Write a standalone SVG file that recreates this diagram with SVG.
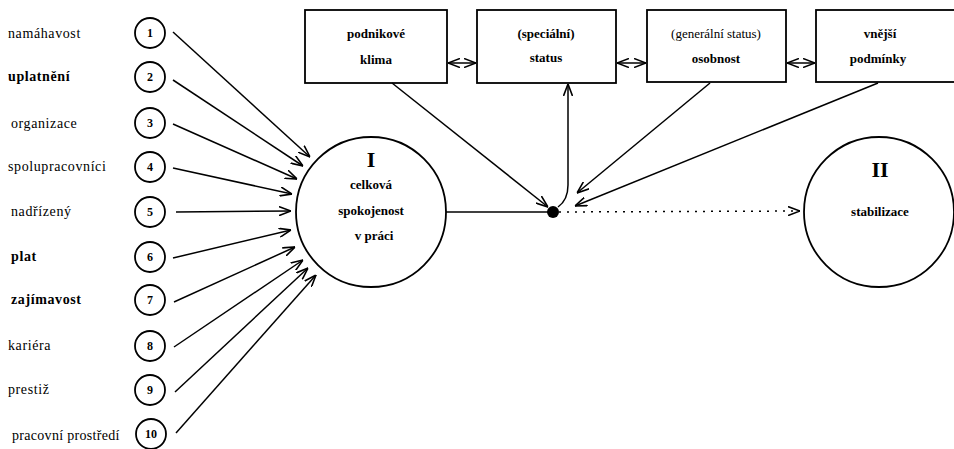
<svg xmlns="http://www.w3.org/2000/svg" width="954" height="449" viewBox="0 0 954 449">
<defs>
<style>
.lbl{font-family:"Liberation Serif","DejaVu Serif",serif;font-size:14px;letter-spacing:0.6px;fill:#000}
.b{font-weight:bold}
.num{font-family:"Liberation Serif","DejaVu Serif",serif;font-size:12px;font-weight:bold;text-anchor:middle;fill:#000}
.box{fill:#fff;stroke:#000;stroke-width:1.8}
.bt{font-family:"Liberation Serif","DejaVu Serif",serif;font-size:13px;font-weight:bold;text-anchor:middle;fill:#000}
.bn{font-family:"Liberation Serif","DejaVu Serif",serif;font-size:13px;text-anchor:middle;fill:#000}
.circ{fill:#fff;stroke:#000;stroke-width:1.8}
.roman{font-family:"Liberation Serif","DejaVu Serif",serif;font-size:22px;font-weight:bold;text-anchor:middle;fill:#000}
.ln{fill:none;stroke:#000;stroke-width:1.5}
</style>
<marker id="ah" viewBox="0 0 12 10" refX="12" refY="5" markerWidth="12" markerHeight="10" markerUnits="userSpaceOnUse" orient="auto-start-reverse">
<path d="M0,0.5 L12,5 L0,9.5" fill="none" stroke="#000" stroke-width="1.6"/>
</marker>
</defs>
<rect width="954" height="449" fill="#fff"/>

<g id="factors">
<g id="f1"><text class="lbl" x="8" y="38">namáhavost</text><circle class="circ" cx="150" cy="33" r="15"/><text class="num" x="150" y="37">1</text></g>
<g id="f2"><text class="lbl b" x="8" y="81">uplatnění</text><circle class="circ" cx="150" cy="77" r="15"/><text class="num" x="150" y="81">2</text></g>
<g id="f3"><text class="lbl" x="11" y="128">organizace</text><circle class="circ" cx="150" cy="123" r="15"/><text class="num" x="150" y="127">3</text></g>
<g id="f4"><text class="lbl" x="8" y="171">spolupracovníci</text><circle class="circ" cx="150" cy="167" r="15"/><text class="num" x="150" y="171">4</text></g>
<g id="f5"><text class="lbl" x="11" y="216">nadřízený</text><circle class="circ" cx="150" cy="212" r="15"/><text class="num" x="150" y="216">5</text></g>
<g id="f6"><text class="lbl b" x="11" y="261">plat</text><circle class="circ" cx="150" cy="257" r="15"/><text class="num" x="150" y="261">6</text></g>
<g id="f7"><text class="lbl b" x="11" y="304">zajímavost</text><circle class="circ" cx="150" cy="300" r="15"/><text class="num" x="150" y="304">7</text></g>
<g id="f8"><text class="lbl" x="8" y="350">kariéra</text><circle class="circ" cx="150" cy="346" r="15"/><text class="num" x="150" y="350">8</text></g>
<g id="f9"><text class="lbl" x="8" y="394">prestiž</text><circle class="circ" cx="150" cy="390" r="15"/><text class="num" x="150" y="394">9</text></g>
<g id="f10"><text class="lbl" x="12" y="440" style="letter-spacing:0.3px">pracovní prostředí</text><circle class="circ" cx="151" cy="434" r="15"/><text class="num" x="151" y="438">10</text></g>
</g>

<g id="box-klima"><rect class="box" x="305" y="10" width="142" height="73"/><text class="bt" x="376" y="38">podnikové</text><text class="bt" x="376" y="64">klima</text></g>
<g id="box-status"><rect class="box" x="477" y="10" width="139" height="73"/><text class="bt" x="546" y="38">(speciální)</text><text class="bt" x="546" y="62">status</text></g>
<g id="box-osobnost"><rect class="box" x="647" y="10" width="139" height="72"/><text class="bn" x="716" y="38">(generální status)</text><text class="bt" x="716" y="63">osobnost</text></g>
<g id="box-podminky"><rect class="box" x="816" y="10" width="140" height="72"/><text class="bt" x="880" y="38">vnější</text><text class="bt" x="878" y="63">podmínky</text></g>

<g id="circle-I"><circle class="circ" cx="371" cy="212" r="75"/><text class="roman" x="371" y="167">I</text><text class="bt" x="371" y="189">celková</text><text class="bt" x="371" y="215">spokojenost</text><text class="bt" x="374" y="240">v práci</text></g>
<g id="circle-II"><circle class="circ" cx="879" cy="212" r="75"/><text class="roman" x="880" y="177">II</text><text class="bt" x="880" y="216">stabilizace</text></g>
<g id="junction"><circle cx="553" cy="212" r="6" fill="#000"/></g>

<g id="connectors">
<line class="ln" x1="173" y1="32" x2="310" y2="157" marker-end="url(#ah)"/>
<line class="ln" x1="173" y1="80" x2="303" y2="166" marker-end="url(#ah)"/>
<line class="ln" x1="173" y1="124" x2="297" y2="179" marker-end="url(#ah)"/>
<line class="ln" x1="173" y1="168" x2="292" y2="194" marker-end="url(#ah)"/>
<line class="ln" x1="176" y1="212" x2="291" y2="211" marker-end="url(#ah)"/>
<line class="ln" x1="173" y1="258" x2="291" y2="230" marker-end="url(#ah)"/>
<line class="ln" x1="174" y1="302" x2="295" y2="247" marker-end="url(#ah)"/>
<line class="ln" x1="174" y1="347" x2="303" y2="260" marker-end="url(#ah)"/>
<line class="ln" x1="175" y1="392" x2="308" y2="268" marker-end="url(#ah)"/>
<line class="ln" x1="176" y1="433" x2="316" y2="275" marker-end="url(#ah)"/>
<line class="ln" x1="446" y1="212" x2="553" y2="212"/>
<line class="ln" x1="559" y1="212" x2="800" y2="211" stroke-dasharray="2,6" marker-end="url(#ah)"/>
<line class="ln" x1="392" y1="83" x2="548" y2="207" marker-end="url(#ah)"/>
<line class="ln" x1="710" y1="83" x2="577" y2="193" marker-end="url(#ah)"/>
<line class="ln" x1="878" y1="83" x2="575" y2="206" marker-end="url(#ah)"/>
<path class="ln" d="M558,207 Q568,200 568,185 L568,84" marker-end="url(#ah)"/>
<line class="ln" x1="448" y1="63" x2="476" y2="63" marker-start="url(#ah)" marker-end="url(#ah)"/>
<line class="ln" x1="617" y1="63" x2="646" y2="63" marker-start="url(#ah)" marker-end="url(#ah)"/>
<line class="ln" x1="787" y1="63" x2="815" y2="63" marker-start="url(#ah)" marker-end="url(#ah)"/>
</g>
</svg>
